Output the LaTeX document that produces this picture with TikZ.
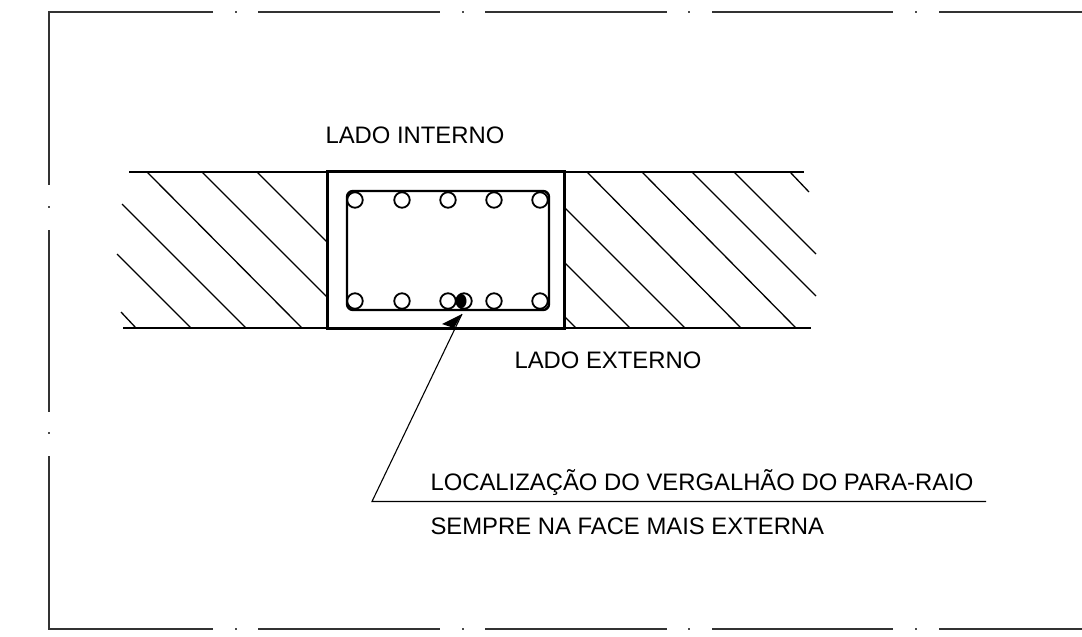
\documentclass[tikz,border=0pt]{standalone}
\usepackage{fontspec}
\setmainfont{Liberation Sans}
\tikzset{
  borderline/.style={line width=1.1pt,color=black!80},
  borderdot/.style={fill=black!70,draw=none},
  wallline/.style={line width=2pt},
  hatchline/.style={line width=1.3pt},
  boxline/.style={line width=2.6pt},
  stirrup/.style={line width=2.4pt,rounded corners=6pt},
  rebar/.style={line width=1.8pt,fill=white,circle,draw,minimum size=15.5pt,inner sep=0pt},
  leader/.style={line width=1.1pt},
  labeltext/.style={anchor=base west,inner sep=0pt,outer sep=0pt,font=\fontsize{23.85}{28}\selectfont}
}
\begin{document}
\begin{tikzpicture}[x=1pt,y=-1pt]
\useasboundingbox (0,0) rectangle (1082,637);
% sheet border
\draw[borderline] (213,12) -- (49,12) -- (49,185);
\draw[borderline] (258,12) -- (440,12);
\draw[borderline] (485,12) -- (667,12);
\draw[borderline] (712,12) -- (893,12);
\draw[borderline] (939,12) -- (1082,12);
\draw[borderline] (49,230) -- (49,412);
\draw[borderline] (49,456) -- (49,629) -- (213,629);
\draw[borderline] (258,629) -- (440,629);
\draw[borderline] (485,629) -- (667,629);
\draw[borderline] (712,629) -- (893,629);
\draw[borderline] (939,629) -- (1082,629);
\foreach \x in {236,463,689,916}{
  \fill[borderdot] (\x-0.8,11.2) rectangle (\x+0.8,12.8);
  \fill[borderdot] (\x-0.8,628.2) rectangle (\x+0.8,629.8);
}
\foreach \y in {207,433}{
  \fill[borderdot] (48.2,\y-0.8) rectangle (49.8,\y+0.8);
}
% hatching
\foreach \a/\b/\c/\d in {147/172/302/328,202/172/328/298,257/172/328/243,122/204/246/328,117/254/191/328,121/312/136/328,
  587/172/741/328,642/172/796/328,692/172/816/296,734/172/816/254,790/172/809/192,564/207/685/328,564/262/630/328,564/316/576/328}{
  \draw[hatchline] (\a,\b) -- (\c,\d);
}
% walls
\draw[wallline] (129,172) -- (804,172);
\draw[wallline] (123,328) -- (811,328);
% column
\node[draw,boxline,minimum width=236.6pt,minimum height=156.6pt,inner sep=0pt,outer sep=0pt] (column) at (445.9,249.9) {};
\draw[stirrup] (347,191) rectangle (549,310);
% rebars
\foreach \x/\n in {355/a,402/b,448/c,494/d,540/e}{
  \node[rebar] (top\n) at (\x,200) {};
  \node[rebar] (bot\n) at (\x,301) {};
}
\node[rebar] (rod) at (464,301) {};
\fill (461.5,301) ellipse (5 and 7);
% labels
\node[labeltext] (interno) at (325.5,143) {LADO INTERNO};
\node[labeltext] (externo) at (514.5,368) {LADO EXTERNO};
\node[labeltext] (loc) at (430.5,490) {LOCALIZAÇÃO DO VERGALHÃO DO PARA-RAIO};
\node[labeltext] (face) at (430.5,534) {SEMPRE NA FACE MAIS EXTERNA};
% leader
\coordinate (tip) at (462,314);
\coordinate (elbow) at (372,501.5);
\coordinate (tail) at (986,501.5);
\coordinate (barbA) at (442,324);
\coordinate (barbB) at (454,328);
\draw[leader] (tail) -- (elbow) -- (tip);
\fill (tip) -- (barbA) -- (barbB) -- cycle;
\end{tikzpicture}
\end{document}
